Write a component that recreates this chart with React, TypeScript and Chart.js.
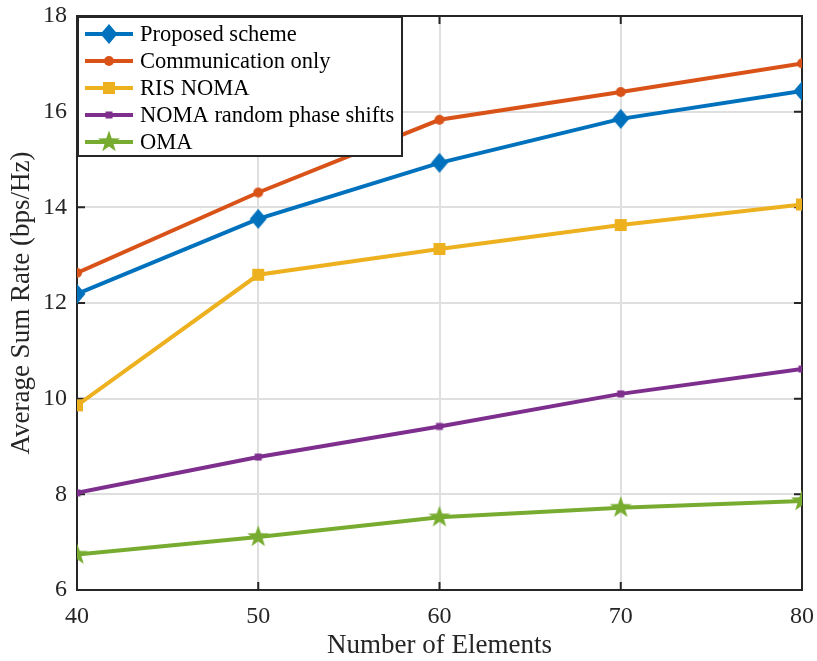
import React, { useEffect, useRef } from 'react';
import { Chart, registerables } from 'chart.js';
Chart.register(...registerables);

const xValues = [40, 50, 60, 70, 80];
const proposed = [12.19, 13.76, 14.93, 15.85, 16.43];
const commOnly = [12.63, 14.31, 15.83, 16.41, 17.01];
const risNoma = [9.86, 12.59, 13.13, 13.63, 14.06];
const nomaRandom = [8.03, 8.78, 9.42, 10.1, 10.62];
const oma = [6.74, 7.11, 7.52, 7.72, 7.86];
const seriesLabels = ['Proposed scheme', 'Communication only', 'RIS NOMA', 'NOMA random phase shifts', 'OMA'];
const seriesColors = ['#0072BD', '#D95319', '#EDB120', '#7E2F8E', '#77AC30'];
const seriesMarkers = ['diamond', 'circle', 'square', 'smallsquare', 'star'];
const xTitle = 'Number of Elements';
const yTitle = 'Average Sum Rate (bps/Hz)';

const FONT = '"Liberation Serif", "Times New Roman", serif';

function drawMarker(ctx: CanvasRenderingContext2D, kind: string, cx: number, cy: number, color: string) {
  ctx.save();
  ctx.fillStyle = color;
  ctx.beginPath();
  if (kind === 'diamond') {
    ctx.moveTo(cx, cy - 10);
    ctx.lineTo(cx + 8.5, cy);
    ctx.lineTo(cx, cy + 10);
    ctx.lineTo(cx - 8.5, cy);
    ctx.closePath();
  } else if (kind === 'circle') {
    ctx.arc(cx, cy, 5, 0, Math.PI * 2);
  } else if (kind === 'square') {
    ctx.rect(cx - 6, cy - 6, 12, 12);
  } else if (kind === 'smallsquare') {
    ctx.rect(cx - 3.5, cy - 3.5, 7, 7);
  } else if (kind === 'star') {
    const R = 11.5, r = 4.6;
    for (let i = 0; i < 10; i++) {
      const a = -Math.PI / 2 + (i * Math.PI) / 5;
      const rad = i % 2 === 0 ? R : r;
      const px = cx + rad * Math.cos(a);
      const py = cy + rad * Math.sin(a);
      if (i === 0) ctx.moveTo(px, py); else ctx.lineTo(px, py);
    }
    ctx.closePath();
  }
  ctx.fill();
  ctx.restore();
}

function makeMarkerCanvas(kind: string, color: string): HTMLCanvasElement {
  const c = document.createElement('canvas');
  c.width = 26;
  c.height = 26;
  const ctx = c.getContext('2d')!;
  drawMarker(ctx, kind, 13, 13, color);
  return c;
}

const boxPlugin = {
  id: 'matlabBox',
  beforeDatasetsDraw(chart: any) {
    const { ctx, chartArea } = chart;
    const { left, right, top, bottom } = chartArea;
    ctx.save();
    ctx.strokeStyle = '#262626';
    ctx.lineWidth = 2;
    ctx.strokeRect(left, top, right - left, bottom - top);
    const tl = 8;
    const xs = chart.scales.x;
    const ys = chart.scales.y;
    ctx.beginPath();
    xs.ticks.forEach((t: any) => {
      const px = xs.getPixelForValue(t.value);
      ctx.moveTo(px, bottom); ctx.lineTo(px, bottom - tl);
      ctx.moveTo(px, top); ctx.lineTo(px, top + tl);
    });
    ys.ticks.forEach((t: any) => {
      const py = ys.getPixelForValue(t.value);
      ctx.moveTo(left, py); ctx.lineTo(left + tl, py);
      ctx.moveTo(right, py); ctx.lineTo(right - tl, py);
    });
    ctx.stroke();
    ctx.restore();
  },
};

const legendPlugin = {
  id: 'matlabLegend',
  afterDatasetsDraw(chart: any) {
    const { ctx, chartArea } = chart;
    const x0 = chartArea.left + 1;
    const y0 = chartArea.top + 1;
    const w = 324;
    const h = 139;
    ctx.save();
    ctx.fillStyle = '#ffffff';
    ctx.fillRect(x0, y0, w, h);
    ctx.strokeStyle = '#262626';
    ctx.lineWidth = 2;
    ctx.strokeRect(x0, y0, w, h);
    ctx.font = `22.5px ${FONT}`;
    ctx.textBaseline = 'middle';
    ctx.textAlign = 'left';
    chart.data.datasets.forEach((ds: any, i: number) => {
      const cy = y0 + 17 + i * 27;
      ctx.strokeStyle = ds.borderColor;
      ctx.lineWidth = 4;
      ctx.beginPath();
      ctx.moveTo(x0 + 7, cy);
      ctx.lineTo(x0 + 55, cy);
      ctx.stroke();
      drawMarker(ctx, seriesMarkers[i], x0 + 31, cy, ds.borderColor);
      ctx.fillStyle = '#000000';
      ctx.fillText(ds.label, x0 + 62, cy + 1);
    });
    ctx.restore();
  },
};

function noPad(scale: any) {
  scale.paddingTop = 0;
  scale.paddingBottom = 0;
  scale.paddingLeft = 0;
  scale.paddingRight = 0;
}

export default function App() {
  const ref = useRef<HTMLCanvasElement | null>(null);
  useEffect(() => {
    const seriesValues = [proposed, commOnly, risNoma, nomaRandom, oma];
    const datasets = seriesValues.map((vals, i) => ({
      label: seriesLabels[i],
      data: xValues.map((x, j) => ({ x, y: vals[j] })),
      borderColor: seriesColors[i],
      backgroundColor: seriesColors[i],
      borderWidth: 4,
      pointStyle: makeMarkerCanvas(seriesMarkers[i], seriesColors[i]),
      pointRadius: 8,
      tension: 0,
    }));
    const chart = new Chart(ref.current!, {
      type: 'line',
      data: { datasets },
      options: {
        animation: false,
        responsive: false,
        maintainAspectRatio: false,
        layout: { padding: { top: 16, right: 15, left: 0, bottom: 0 } },
        plugins: { legend: { display: false }, tooltip: { enabled: false } },
        scales: {
          x: {
            type: 'linear',
            min: 40,
            max: 80,
            afterFit(scale: any) { scale.height = 71; noPad(scale); },
            ticks: { stepSize: 10, color: '#262626', font: { family: FONT, size: 24 }, padding: 12 },
            grid: { color: '#dfdfdf', lineWidth: 2, drawTicks: false },
            border: { display: false },
            title: { display: true, text: xTitle, color: '#262626', font: { family: FONT, size: 27, lineHeight: 1 }, padding: { top: 0, bottom: 2 } },
          },
          y: {
            type: 'linear',
            min: 6,
            max: 18,
            afterFit(scale: any) { scale.width = 77; noPad(scale); },
            ticks: { stepSize: 2, color: '#262626', font: { family: FONT, size: 24 }, padding: 10 },
            grid: { color: '#dfdfdf', lineWidth: 2, drawTicks: false },
            border: { display: false },
            title: { display: true, text: yTitle, color: '#262626', font: { family: FONT, size: 27, lineHeight: 1 }, padding: { top: 8, bottom: 0 } },
          },
        },
      },
      plugins: [boxPlugin, legendPlugin],
    });
    return () => chart.destroy();
  }, []);
  return (
    <div style={{ position: 'fixed', left: 0, top: 0, width: 817, height: 661, background: '#fff' }}>
      <canvas ref={ref} width={817} height={661} style={{ width: 817, height: 661, display: 'block' }} />
    </div>
  );
}
